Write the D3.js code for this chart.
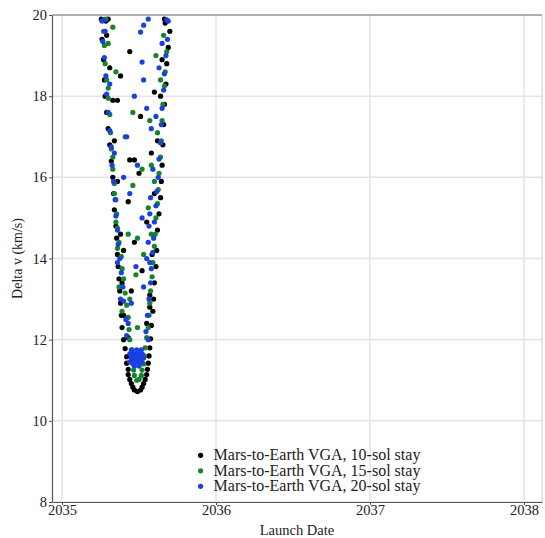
<!DOCTYPE html>
<html>
<head>
<meta charset="utf-8">
<script src="https://cdn.jsdelivr.net/npm/d3@7"></script>
<style>
  body { margin: 0; background: #fff; }
  text { font-family: 'Liberation Serif', 'Times New Roman', serif; }
</style>
</head>
<body>
<div class="chart"></div>
<script>
'use strict';

const xTicks = [2035, 2036, 2037, 2038];
const yTicks = [8, 10, 12, 14, 16, 18, 20];
const seriesNames = [
  'Mars-to-Earth VGA, 10-sol stay',
  'Mars-to-Earth VGA, 15-sol stay',
  'Mars-to-Earth VGA, 20-sol stay'
];

// [launch date (decimal year), delta v (km/s)]
const stay10 = [
  [2035.49, 10.72], [2035.47, 10.76], [2035.51, 10.76], [2035.46, 10.83], [2035.52, 10.83],
  [2035.45, 10.92], [2035.53, 10.92], [2035.44, 11.02], [2035.54, 11.02], [2035.43, 11.14],
  [2035.55, 11.14], [2035.43, 11.27], [2035.555, 11.27], [2035.42, 11.42], [2035.56, 11.42],
  [2035.42, 11.58], [2035.565, 11.6], [2035.41, 11.78], [2035.57, 11.8], [2035.40, 12.0],
  [2035.575, 12.02], [2035.39, 12.3], [2035.58, 12.35],
  [2035.385, 12.6], [2035.38, 12.9], [2035.375, 13.2], [2035.37, 13.5], [2035.365, 13.8],
  [2035.36, 14.1], [2035.355, 14.5], [2035.35, 14.8], [2035.34, 15.2], [2035.335, 15.6],
  [2035.33, 16.0], [2035.32, 16.4], [2035.31, 16.8], [2035.30, 17.2], [2035.29, 17.6],
  [2035.28, 18.0], [2035.275, 18.4], [2035.27, 18.9], [2035.26, 19.4], [2035.255, 19.9],
  [2035.59, 12.7], [2035.595, 13.0], [2035.60, 13.4], [2035.61, 13.8], [2035.615, 14.2],
  [2035.62, 14.7], [2035.63, 15.1], [2035.64, 15.5], [2035.645, 15.9], [2035.65, 16.3],
  [2035.655, 16.8], [2035.66, 17.3], [2035.665, 17.8], [2035.675, 18.3], [2035.68, 18.8],
  [2035.69, 19.2], [2035.70, 19.6],
  [2035.45, 13.2], [2035.52, 13.7], [2035.47, 14.4], [2035.55, 14.9], [2035.43, 15.4],
  [2035.50, 16.1], [2035.44, 16.43], [2035.47, 16.43], [2035.58, 16.6], [2035.51, 17.5],
  [2035.60, 18.1], [2035.38, 18.5], [2035.44, 19.1], [2035.67, 19.8], [2035.30, 19.9],
  [2035.285, 19.85], [2035.36, 17.9], [2035.40, 14.2], [2035.57, 13.1],
  [2035.40, 12.6], [2035.39, 13.4], [2035.38, 14.6], [2035.36, 15.9], [2035.34, 16.9],
  [2035.33, 17.9], [2035.31, 18.7], [2035.29, 19.5], [2035.57, 12.8], [2035.585, 14.1],
  [2035.60, 15.6], [2035.62, 16.9], [2035.64, 18.0], [2035.65, 18.9], [2035.665, 19.9],
  [2035.43, 12.05], [2035.55, 12.4]
];

const stay15 = [
  [2035.485, 11.0], [2035.50, 11.02], [2035.47, 11.12], [2035.515, 11.12], [2035.465, 11.25],
  [2035.52, 11.25], [2035.46, 11.4], [2035.53, 11.4], [2035.455, 11.55], [2035.535, 11.6],
  [2035.45, 11.75], [2035.54, 11.8], [2035.44, 12.0], [2035.55, 12.05], [2035.435, 12.25],
  [2035.56, 12.3], [2035.43, 12.55], [2035.565, 12.6], [2035.42, 12.85], [2035.57, 12.9],
  [2035.41, 13.15], [2035.40, 13.5], [2035.39, 13.75], [2035.385, 14.05], [2035.37, 14.4],
  [2035.36, 14.75], [2035.355, 15.1], [2035.35, 15.45], [2035.34, 15.85], [2035.33, 16.2],
  [2035.32, 16.7], [2035.315, 17.1], [2035.31, 17.55], [2035.30, 17.95], [2035.29, 18.4],
  [2035.28, 18.8], [2035.275, 19.25], [2035.27, 19.6],
  [2035.575, 13.2], [2035.585, 13.55], [2035.59, 13.9], [2035.60, 14.3], [2035.605, 14.6],
  [2035.61, 15.0], [2035.62, 15.35], [2035.625, 15.7], [2035.63, 16.1], [2035.64, 16.5],
  [2035.645, 16.9], [2035.65, 17.4], [2035.655, 17.8], [2035.665, 18.25], [2035.67, 18.6],
  [2035.68, 19.1],
  [2035.44, 13.0], [2035.48, 13.6], [2035.53, 14.1], [2035.43, 14.6], [2035.56, 15.25],
  [2035.46, 15.8], [2035.52, 16.2], [2035.58, 16.3], [2035.41, 17.0], [2035.57, 17.4],
  [2035.35, 18.6], [2035.33, 19.7], [2035.61, 19.0], [2035.36, 14.25], [2035.34, 15.6],
  [2035.30, 19.3], [2035.49, 12.3],
  [2035.39, 12.7], [2035.37, 13.3], [2035.35, 14.9], [2035.33, 16.5], [2035.30, 18.2],
  [2035.285, 19.9], [2035.58, 14.6], [2035.60, 15.9], [2035.62, 17.1], [2035.64, 18.4],
  [2035.66, 19.5], [2035.49, 14.5], [2035.46, 17.6]
];

const stay20 = [
  [2035.44, 11.45], [2035.46, 11.45], [2035.48, 11.45], [2035.50, 11.45], [2035.52, 11.45],
  [2035.45, 11.55], [2035.47, 11.55], [2035.49, 11.55], [2035.51, 11.55], [2035.53, 11.55],
  [2035.44, 11.65], [2035.46, 11.65], [2035.48, 11.65], [2035.50, 11.65], [2035.52, 11.65],
  [2035.455, 11.75], [2035.485, 11.75], [2035.515, 11.75], [2035.47, 11.35], [2035.50, 11.35],
  [2035.42, 12.1], [2035.415, 12.5], [2035.40, 12.95], [2035.395, 13.3], [2035.385, 13.65],
  [2035.375, 14.0], [2035.365, 14.35], [2035.36, 14.7], [2035.35, 15.05], [2035.345, 15.45],
  [2035.335, 15.9], [2035.325, 16.3], [2035.32, 16.75], [2035.31, 17.15], [2035.30, 17.6],
  [2035.29, 18.05], [2035.285, 18.5], [2035.275, 18.95], [2035.265, 19.35], [2035.26, 19.85],
  [2035.27, 19.88],
  [2035.545, 12.2], [2035.555, 12.6], [2035.565, 13.0], [2035.575, 13.4], [2035.58, 13.75],
  [2035.59, 14.15], [2035.595, 14.5], [2035.60, 14.9], [2035.61, 15.3], [2035.615, 15.65],
  [2035.625, 16.0], [2035.63, 16.45], [2035.64, 16.85], [2035.645, 17.3], [2035.65, 17.7],
  [2035.66, 18.15], [2035.665, 18.55], [2035.675, 19.0], [2035.685, 19.4], [2035.69, 19.85],
  [2035.68, 19.88],
  [2035.55, 14.0], [2035.56, 14.4], [2035.565, 14.8], [2035.57, 15.1], [2035.575, 15.5],
  [2035.45, 12.9], [2035.48, 13.8], [2035.52, 15.0], [2035.44, 15.6], [2035.49, 16.3],
  [2035.42, 17.0], [2035.55, 17.7], [2035.53, 18.4], [2035.52, 18.84], [2035.51, 19.58],
  [2035.53, 19.75], [2035.56, 19.9], [2035.40, 16.0], [2035.58, 17.2],
  [2035.38, 13.0], [2035.36, 13.9], [2035.34, 16.6], [2035.31, 18.3], [2035.28, 19.6],
  [2035.57, 13.9], [2035.59, 16.2], [2035.61, 17.5], [2035.63, 18.7], [2035.65, 19.3],
  [2035.53, 13.3], [2035.47, 18.0], [2035.43, 12.4], [2035.56, 12.0]
];

const seriesData = [stay10, stay15, stay20];
const seriesColors = ['#000000', '#14852c', '#1c3fe4'];

const margin = { top: 15, right: 3, bottom: 36, left: 52 };
const FULL_WIDTH = 545;
const FULL_HEIGHT = 538;
const WIDTH = FULL_WIDTH - margin.left - margin.right;
const HEIGHT = FULL_HEIGHT - margin.top - margin.bottom;
const R = 2.6;

const svg = d3.select('.chart')
  .append('svg')
    .attr('width', FULL_WIDTH)
    .attr('height', FULL_HEIGHT)
  .append('g')
    .attr('transform', 'translate(' + margin.left + ',' + margin.top + ')');

const x = d3.scaleLinear()
  .domain([2034.935, 2038.117])
  .range([0, WIDTH]);

const y = d3.scaleLinear()
  .domain([8, 20])
  .range([HEIGHT, 0]);

// grid
svg.append('g')
  .selectAll('line')
  .data(xTicks)
  .enter()
  .append('line')
    .attr('x1', (d) => x(d))
    .attr('x2', (d) => x(d))
    .attr('y1', 0)
    .attr('y2', HEIGHT)
    .attr('stroke', '#e4e4e4')
    .attr('stroke-width', 1.5);

svg.append('g')
  .selectAll('line')
  .data(yTicks)
  .enter()
  .append('line')
    .attr('x1', 0)
    .attr('x2', WIDTH)
    .attr('y1', (d) => y(d))
    .attr('y2', (d) => y(d))
    .attr('stroke', '#e4e4e4')
    .attr('stroke-width', 1.5);

// frame
svg.append('line')
  .attr('x1', 0).attr('x2', WIDTH)
  .attr('y1', 0).attr('y2', 0)
  .attr('stroke', '#777');
svg.append('line')
  .attr('x1', WIDTH).attr('x2', WIDTH)
  .attr('y1', 0).attr('y2', HEIGHT)
  .attr('stroke', '#ccc');

// points
seriesData.forEach((data, i) => {
  svg.append('g')
    .selectAll('circle')
    .data(data)
    .enter()
    .append('circle')
      .attr('r', R)
      .attr('cx', (d) => x(d[0]))
      .attr('cy', (d) => y(d[1]))
      .attr('fill', seriesColors[i]);
});

// axes
const xAxis = svg.append('g')
  .attr('transform', 'translate(0,' + HEIGHT + ')')
  .call(d3.axisBottom(x).tickValues(xTicks).tickFormat(d3.format('d')).tickSize(3).tickSizeOuter(0));

const yAxis = svg.append('g')
  .call(d3.axisLeft(y).tickValues(yTicks).tickSize(3).tickSizeOuter(0));

[xAxis, yAxis].forEach((a) => {
  a.select('.domain').attr('stroke', '#555').attr('stroke-width', 1.2);
  a.selectAll('.tick line').attr('stroke', '#555');
  a.selectAll('.tick text')
    .attr('fill', '#222')
    .attr('font-size', '14.5px')
    .attr('font-family', "'Liberation Serif', serif");
});
xAxis.selectAll('.tick text').attr('dy', '0.5em');
yAxis.selectAll('.tick text').attr('x', -5);

svg.append('text')
  .attr('x', WIDTH / 2)
  .attr('y', HEIGHT + 33)
  .attr('text-anchor', 'middle')
  .attr('font-size', '14.5px')
  .attr('fill', '#222')
  .text('Launch Date');

svg.append('text')
  .attr('transform', 'rotate(-90)')
  .attr('x', -HEIGHT / 2)
  .attr('y', -30)
  .attr('text-anchor', 'middle')
  .attr('font-size', '14px')
  .attr('fill', '#222')
  .text('Delta v (km/s)');

// legend
const legend = svg.append('g')
  .attr('transform', 'translate(' + x(2035.9) + ',' + (y(9.15)) + ')');

seriesNames.forEach((name, i) => {
  const row = legend.append('g')
    .attr('transform', 'translate(0,' + (i * 15.5) + ')');
  row.append('circle')
    .attr('r', R)
    .attr('fill', seriesColors[i]);
  row.append('text')
    .attr('x', 13)
    .attr('dy', '0.32em')
    .attr('font-size', '16px')
    .attr('fill', '#222')
    .text(name);
});
</script>
</body>
</html>
